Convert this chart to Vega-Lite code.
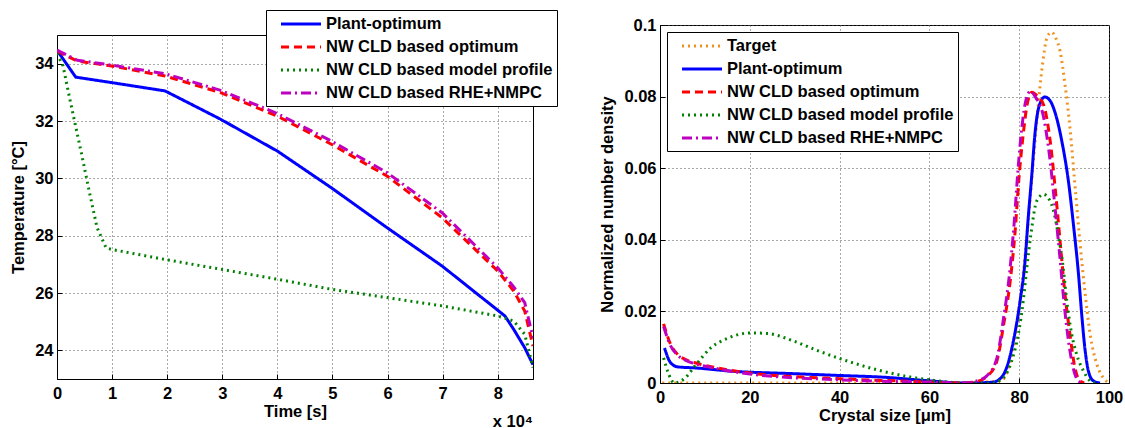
{
  "$schema": "https://vega.github.io/schema/vega-lite/v6.json",
  "padding": {"left": 10, "top": 9, "right": 5, "bottom": 2},
  "background": "white",
  "datasets": {
    "temp": [
      {"t": 0, "T": 34.47, "s": "Plant-optimum"},
      {"t": 3400, "T": 33.53, "s": "Plant-optimum"},
      {"t": 9900, "T": 33.34, "s": "Plant-optimum"},
      {"t": 19600, "T": 33.05, "s": "Plant-optimum"},
      {"t": 23800, "T": 32.64, "s": "Plant-optimum"},
      {"t": 29700, "T": 32.06, "s": "Plant-optimum"},
      {"t": 40000, "T": 30.95, "s": "Plant-optimum"},
      {"t": 49800, "T": 29.67, "s": "Plant-optimum"},
      {"t": 59900, "T": 28.28, "s": "Plant-optimum"},
      {"t": 69900, "T": 26.94, "s": "Plant-optimum"},
      {"t": 81300, "T": 25.2, "s": "Plant-optimum"},
      {"t": 82900, "T": 24.73, "s": "Plant-optimum"},
      {"t": 84900, "T": 24.09, "s": "Plant-optimum"},
      {"t": 86400, "T": 23.5, "s": "Plant-optimum"},
      {"t": 0, "T": 34.44, "s": "NW CLD based optimum"},
      {"t": 3700, "T": 34.09, "s": "NW CLD based optimum"},
      {"t": 9900, "T": 33.92, "s": "NW CLD based optimum"},
      {"t": 19600, "T": 33.57, "s": "NW CLD based optimum"},
      {"t": 29700, "T": 32.99, "s": "NW CLD based optimum"},
      {"t": 40000, "T": 32.17, "s": "NW CLD based optimum"},
      {"t": 49800, "T": 31.19, "s": "NW CLD based optimum"},
      {"t": 59900, "T": 30.08, "s": "NW CLD based optimum"},
      {"t": 69900, "T": 28.63, "s": "NW CLD based optimum"},
      {"t": 80000, "T": 26.77, "s": "NW CLD based optimum"},
      {"t": 82900, "T": 26.07, "s": "NW CLD based optimum"},
      {"t": 84900, "T": 25.37, "s": "NW CLD based optimum"},
      {"t": 86400, "T": 24.15, "s": "NW CLD based optimum"},
      {"t": 0, "T": 34.35, "s": "NW CLD based model profile"},
      {"t": 1100, "T": 33.92, "s": "NW CLD based model profile"},
      {"t": 2400, "T": 32.7, "s": "NW CLD based model profile"},
      {"t": 4350, "T": 30.95, "s": "NW CLD based model profile"},
      {"t": 5970, "T": 29.44, "s": "NW CLD based model profile"},
      {"t": 7270, "T": 28.28, "s": "NW CLD based model profile"},
      {"t": 8900, "T": 27.58, "s": "NW CLD based model profile"},
      {"t": 9900, "T": 27.52, "s": "NW CLD based model profile"},
      {"t": 19600, "T": 27.17, "s": "NW CLD based model profile"},
      {"t": 29700, "T": 26.83, "s": "NW CLD based model profile"},
      {"t": 40000, "T": 26.48, "s": "NW CLD based model profile"},
      {"t": 49800, "T": 26.13, "s": "NW CLD based model profile"},
      {"t": 59900, "T": 25.84, "s": "NW CLD based model profile"},
      {"t": 69900, "T": 25.55, "s": "NW CLD based model profile"},
      {"t": 80000, "T": 25.2, "s": "NW CLD based model profile"},
      {"t": 82900, "T": 25.02, "s": "NW CLD based model profile"},
      {"t": 84900, "T": 24.56, "s": "NW CLD based model profile"},
      {"t": 86400, "T": 23.4, "s": "NW CLD based model profile"},
      {"t": 0, "T": 34.47, "s": "NW CLD based RHE+NMPC"},
      {"t": 3700, "T": 34.12, "s": "NW CLD based RHE+NMPC"},
      {"t": 9900, "T": 33.95, "s": "NW CLD based RHE+NMPC"},
      {"t": 19600, "T": 33.65, "s": "NW CLD based RHE+NMPC"},
      {"t": 29700, "T": 33.07, "s": "NW CLD based RHE+NMPC"},
      {"t": 40000, "T": 32.26, "s": "NW CLD based RHE+NMPC"},
      {"t": 49800, "T": 31.3, "s": "NW CLD based RHE+NMPC"},
      {"t": 59900, "T": 30.2, "s": "NW CLD based RHE+NMPC"},
      {"t": 69900, "T": 28.8, "s": "NW CLD based RHE+NMPC"},
      {"t": 80000, "T": 26.88, "s": "NW CLD based RHE+NMPC"},
      {"t": 82900, "T": 26.21, "s": "NW CLD based RHE+NMPC"},
      {"t": 84900, "T": 25.66, "s": "NW CLD based RHE+NMPC"},
      {"t": 86400, "T": 24.44, "s": "NW CLD based RHE+NMPC"}
    ],
    "csd": [
      {"L": 0.5, "n": 0, "s": "Target"},
      {"L": 20, "n": 0, "s": "Target"},
      {"L": 40, "n": 0, "s": "Target"},
      {"L": 60, "n": 0, "s": "Target"},
      {"L": 76, "n": 0.0005, "s": "Target"},
      {"L": 77.5, "n": 0.004, "s": "Target"},
      {"L": 79, "n": 0.012, "s": "Target"},
      {"L": 80.5, "n": 0.026, "s": "Target"},
      {"L": 82, "n": 0.045, "s": "Target"},
      {"L": 83.5, "n": 0.067, "s": "Target"},
      {"L": 85, "n": 0.087, "s": "Target"},
      {"L": 86.2, "n": 0.0965, "s": "Target"},
      {"L": 87.2, "n": 0.098, "s": "Target"},
      {"L": 88.2, "n": 0.0962, "s": "Target"},
      {"L": 89.1, "n": 0.0927, "s": "Target"},
      {"L": 90.2, "n": 0.0834, "s": "Target"},
      {"L": 91.3, "n": 0.0713, "s": "Target"},
      {"L": 92.4, "n": 0.0555, "s": "Target"},
      {"L": 93.5, "n": 0.0397, "s": "Target"},
      {"L": 94.7, "n": 0.0248, "s": "Target"},
      {"L": 95.8, "n": 0.0136, "s": "Target"},
      {"L": 97.3, "n": 0.0052, "s": "Target"},
      {"L": 98.7, "n": 0.0015, "s": "Target"},
      {"L": 100, "n": 0, "s": "Target"},
      {"L": 1, "n": 0.0098, "s": "Plant-optimum"},
      {"L": 2.4, "n": 0.0056, "s": "Plant-optimum"},
      {"L": 4, "n": 0.0045, "s": "Plant-optimum"},
      {"L": 8, "n": 0.0042, "s": "Plant-optimum"},
      {"L": 16, "n": 0.0033, "s": "Plant-optimum"},
      {"L": 30, "n": 0.0026, "s": "Plant-optimum"},
      {"L": 40, "n": 0.0021, "s": "Plant-optimum"},
      {"L": 50, "n": 0.0016, "s": "Plant-optimum"},
      {"L": 60, "n": 0.0006, "s": "Plant-optimum"},
      {"L": 67.6, "n": 0, "s": "Plant-optimum"},
      {"L": 74, "n": 0.0002, "s": "Plant-optimum"},
      {"L": 76, "n": 0.0015, "s": "Plant-optimum"},
      {"L": 77.2, "n": 0.0043, "s": "Plant-optimum"},
      {"L": 78.7, "n": 0.0117, "s": "Plant-optimum"},
      {"L": 80.2, "n": 0.0229, "s": "Plant-optimum"},
      {"L": 81.3, "n": 0.034, "s": "Plant-optimum"},
      {"L": 82, "n": 0.046, "s": "Plant-optimum"},
      {"L": 82.8, "n": 0.058, "s": "Plant-optimum"},
      {"L": 83.5, "n": 0.0695, "s": "Plant-optimum"},
      {"L": 84.4, "n": 0.0772, "s": "Plant-optimum"},
      {"L": 85.7, "n": 0.0799, "s": "Plant-optimum"},
      {"L": 86.8, "n": 0.079, "s": "Plant-optimum"},
      {"L": 88, "n": 0.0755, "s": "Plant-optimum"},
      {"L": 89.5, "n": 0.0675, "s": "Plant-optimum"},
      {"L": 91, "n": 0.056, "s": "Plant-optimum"},
      {"L": 92.1, "n": 0.044, "s": "Plant-optimum"},
      {"L": 93.2, "n": 0.0305, "s": "Plant-optimum"},
      {"L": 93.9, "n": 0.0195, "s": "Plant-optimum"},
      {"L": 94.7, "n": 0.0089, "s": "Plant-optimum"},
      {"L": 95.4, "n": 0.0034, "s": "Plant-optimum"},
      {"L": 96.5, "n": 0.0006, "s": "Plant-optimum"},
      {"L": 98, "n": 0, "s": "Plant-optimum"},
      {"L": 0.8, "n": 0.0165, "s": "NW CLD based optimum"},
      {"L": 2.4, "n": 0.0107, "s": "NW CLD based optimum"},
      {"L": 4, "n": 0.0079, "s": "NW CLD based optimum"},
      {"L": 6, "n": 0.0064, "s": "NW CLD based optimum"},
      {"L": 8, "n": 0.0056, "s": "NW CLD based optimum"},
      {"L": 12, "n": 0.0044, "s": "NW CLD based optimum"},
      {"L": 20, "n": 0.0028, "s": "NW CLD based optimum"},
      {"L": 40, "n": 0.0012, "s": "NW CLD based optimum"},
      {"L": 60, "n": 0.0003, "s": "NW CLD based optimum"},
      {"L": 67.6, "n": 0, "s": "NW CLD based optimum"},
      {"L": 70.8, "n": 0.0005, "s": "NW CLD based optimum"},
      {"L": 72.8, "n": 0.0018, "s": "NW CLD based optimum"},
      {"L": 75, "n": 0.006, "s": "NW CLD based optimum"},
      {"L": 76.5, "n": 0.016, "s": "NW CLD based optimum"},
      {"L": 78, "n": 0.0285, "s": "NW CLD based optimum"},
      {"L": 79.1, "n": 0.0425, "s": "NW CLD based optimum"},
      {"L": 79.9, "n": 0.0565, "s": "NW CLD based optimum"},
      {"L": 80.9, "n": 0.0695, "s": "NW CLD based optimum"},
      {"L": 81.8, "n": 0.078, "s": "NW CLD based optimum"},
      {"L": 82.8, "n": 0.0812, "s": "NW CLD based optimum"},
      {"L": 84, "n": 0.0802, "s": "NW CLD based optimum"},
      {"L": 85.4, "n": 0.0778, "s": "NW CLD based optimum"},
      {"L": 86.9, "n": 0.0676, "s": "NW CLD based optimum"},
      {"L": 88, "n": 0.0546, "s": "NW CLD based optimum"},
      {"L": 89.1, "n": 0.0397, "s": "NW CLD based optimum"},
      {"L": 90.2, "n": 0.0248, "s": "NW CLD based optimum"},
      {"L": 91.3, "n": 0.0136, "s": "NW CLD based optimum"},
      {"L": 92.4, "n": 0.0043, "s": "NW CLD based optimum"},
      {"L": 93.5, "n": 0.0006, "s": "NW CLD based optimum"},
      {"L": 94.5, "n": 0, "s": "NW CLD based optimum"},
      {"L": 0.8, "n": 0.007, "s": "NW CLD based model profile"},
      {"L": 2, "n": 0.0023, "s": "NW CLD based model profile"},
      {"L": 3.2, "n": 0, "s": "NW CLD based model profile"},
      {"L": 5.6, "n": 0.0014, "s": "NW CLD based model profile"},
      {"L": 8, "n": 0.0051, "s": "NW CLD based model profile"},
      {"L": 11.3, "n": 0.0098, "s": "NW CLD based model profile"},
      {"L": 15.3, "n": 0.0126, "s": "NW CLD based model profile"},
      {"L": 20.1, "n": 0.014, "s": "NW CLD based model profile"},
      {"L": 24.1, "n": 0.0138, "s": "NW CLD based model profile"},
      {"L": 29.8, "n": 0.0117, "s": "NW CLD based model profile"},
      {"L": 35.4, "n": 0.0089, "s": "NW CLD based model profile"},
      {"L": 41.8, "n": 0.0061, "s": "NW CLD based model profile"},
      {"L": 48.3, "n": 0.0037, "s": "NW CLD based model profile"},
      {"L": 54.7, "n": 0.0019, "s": "NW CLD based model profile"},
      {"L": 61.1, "n": 0.0007, "s": "NW CLD based model profile"},
      {"L": 67.6, "n": 0, "s": "NW CLD based model profile"},
      {"L": 74, "n": 0, "s": "NW CLD based model profile"},
      {"L": 76.5, "n": 0.0015, "s": "NW CLD based model profile"},
      {"L": 78.3, "n": 0.0061, "s": "NW CLD based model profile"},
      {"L": 79.8, "n": 0.0136, "s": "NW CLD based model profile"},
      {"L": 80.9, "n": 0.0229, "s": "NW CLD based model profile"},
      {"L": 81.7, "n": 0.0322, "s": "NW CLD based model profile"},
      {"L": 82.6, "n": 0.0415, "s": "NW CLD based model profile"},
      {"L": 83.9, "n": 0.0508, "s": "NW CLD based model profile"},
      {"L": 85.4, "n": 0.0527, "s": "NW CLD based model profile"},
      {"L": 87.2, "n": 0.0499, "s": "NW CLD based model profile"},
      {"L": 88.7, "n": 0.0415, "s": "NW CLD based model profile"},
      {"L": 89.8, "n": 0.0322, "s": "NW CLD based model profile"},
      {"L": 90.6, "n": 0.0229, "s": "NW CLD based model profile"},
      {"L": 91.7, "n": 0.0136, "s": "NW CLD based model profile"},
      {"L": 92.8, "n": 0.008, "s": "NW CLD based model profile"},
      {"L": 94.3, "n": 0.0034, "s": "NW CLD based model profile"},
      {"L": 95.8, "n": 0.0006, "s": "NW CLD based model profile"},
      {"L": 97, "n": 0, "s": "NW CLD based model profile"},
      {"L": 0.8, "n": 0.0158, "s": "NW CLD based RHE+NMPC"},
      {"L": 2.4, "n": 0.0103, "s": "NW CLD based RHE+NMPC"},
      {"L": 4, "n": 0.0077, "s": "NW CLD based RHE+NMPC"},
      {"L": 6, "n": 0.0062, "s": "NW CLD based RHE+NMPC"},
      {"L": 8, "n": 0.0053, "s": "NW CLD based RHE+NMPC"},
      {"L": 12, "n": 0.0042, "s": "NW CLD based RHE+NMPC"},
      {"L": 20, "n": 0.0025, "s": "NW CLD based RHE+NMPC"},
      {"L": 40, "n": 0.0009, "s": "NW CLD based RHE+NMPC"},
      {"L": 60, "n": 0.0002, "s": "NW CLD based RHE+NMPC"},
      {"L": 67.6, "n": 0, "s": "NW CLD based RHE+NMPC"},
      {"L": 70.8, "n": 0.0007, "s": "NW CLD based RHE+NMPC"},
      {"L": 72.8, "n": 0.002, "s": "NW CLD based RHE+NMPC"},
      {"L": 75, "n": 0.0068, "s": "NW CLD based RHE+NMPC"},
      {"L": 76.5, "n": 0.018, "s": "NW CLD based RHE+NMPC"},
      {"L": 77.8, "n": 0.03, "s": "NW CLD based RHE+NMPC"},
      {"L": 78.9, "n": 0.045, "s": "NW CLD based RHE+NMPC"},
      {"L": 79.7, "n": 0.059, "s": "NW CLD based RHE+NMPC"},
      {"L": 80.6, "n": 0.0715, "s": "NW CLD based RHE+NMPC"},
      {"L": 81.5, "n": 0.079, "s": "NW CLD based RHE+NMPC"},
      {"L": 82.5, "n": 0.0815, "s": "NW CLD based RHE+NMPC"},
      {"L": 83.7, "n": 0.0797, "s": "NW CLD based RHE+NMPC"},
      {"L": 85.3, "n": 0.075, "s": "NW CLD based RHE+NMPC"},
      {"L": 86.7, "n": 0.064, "s": "NW CLD based RHE+NMPC"},
      {"L": 87.9, "n": 0.05, "s": "NW CLD based RHE+NMPC"},
      {"L": 89, "n": 0.036, "s": "NW CLD based RHE+NMPC"},
      {"L": 90.1, "n": 0.021, "s": "NW CLD based RHE+NMPC"},
      {"L": 91.3, "n": 0.009, "s": "NW CLD based RHE+NMPC"},
      {"L": 92.4, "n": 0.0025, "s": "NW CLD based RHE+NMPC"},
      {"L": 93.5, "n": 0.0003, "s": "NW CLD based RHE+NMPC"},
      {"L": 94.1, "n": 0, "s": "NW CLD based RHE+NMPC"}
    ]
  },
  "hconcat": [
    {
      "vconcat": [
        {
          "width": 1,
          "height": 1,
          "data": {"values": []},
          "mark": {"type": "point", "opacity": 0},
          "view": {"stroke": null}
        },
        {
          "width": 476,
          "height": 344,
          "data": {"name": "temp"},
          "title": {"text": "x 10⁴", "orient": "bottom", "anchor": "end", "frame": "group", "offset": -6},
          "mark": {"type": "line", "strokeWidth": 3, "clip": true},
          "encoding": {
            "x": {"field": "t", "type": "quantitative", "scale": {"domain": [0, 86400], "nice": false, "zero": false},
                  "axis": {"title": "Time [s]", "values": [0, 10000, 20000, 30000, 40000, 50000, 60000, 70000, 80000], "labelExpr": "datum.value / 10000"}},
            "y": {"field": "T", "type": "quantitative", "scale": {"domain": [23, 35], "nice": false, "zero": false},
                  "axis": {"title": "Temperature [°C]", "values": [24, 26, 28, 30, 32, 34]}},
            "color": {"field": "s", "type": "nominal",
                      "scale": {"domain": ["Plant-optimum", "NW CLD based optimum", "NW CLD based model profile", "NW CLD based RHE+NMPC"],
                                "range": ["#0000FF", "#FF0000", "#008000", "#C000C0"]},
                      "legend": {"title": null, "orient": "none", "legendX": 209, "legendY": -15, "symbolType": "M-2.353,0L2.353,0", "symbolSize": 289, "symbolStrokeWidth": 3, "symbolOffset": 21, "labelOffset": 15, "padding": 4, "rowPadding": 4, "fillColor": "white", "strokeColor": "black", "labelFont": "Liberation Sans", "labelFontSize": 16.5, "labelFontWeight": "bold", "labelColor": "black", "labelLimit": 400}},
            "strokeDash": {"field": "s", "type": "nominal",
                      "scale": {"domain": ["Plant-optimum", "NW CLD based optimum", "NW CLD based model profile", "NW CLD based RHE+NMPC"],
                                "range": [[1, 0], [8, 5], [2, 4], [10, 4, 2, 4]]},
                      "legend": {"title": null, "orient": "none", "legendX": 209, "legendY": -15, "symbolType": "M-2.353,0L2.353,0", "symbolSize": 289, "symbolStrokeWidth": 3, "symbolOffset": 21, "labelOffset": 15, "padding": 4, "rowPadding": 4, "fillColor": "white", "strokeColor": "black", "labelFont": "Liberation Sans", "labelFontSize": 16.5, "labelFontWeight": "bold", "labelColor": "black", "labelLimit": 400}}
          }
        }
      ],
      "spacing": 9,
      "bounds": "flush"
    },
    {
      "width": 449,
      "height": 358,
      "data": {"name": "csd"},
      "mark": {"type": "line", "strokeWidth": 3, "clip": true, "interpolate": "monotone"},
      "encoding": {
        "x": {"field": "L", "type": "quantitative", "scale": {"domain": [0, 100], "nice": false},
              "axis": {"title": "Crystal size [μm]", "values": [0, 20, 40, 60, 80, 100]}},
        "y": {"field": "n", "type": "quantitative", "scale": {"domain": [0, 0.1], "nice": false},
              "axis": {"title": "Normalized number density", "values": [0, 0.02, 0.04, 0.06, 0.08, 0.1], "format": "~g"}},
        "color": {"field": "s", "type": "nominal",
                  "scale": {"domain": ["Target", "Plant-optimum", "NW CLD based optimum", "NW CLD based model profile", "NW CLD based RHE+NMPC"],
                            "range": ["#F0901E", "#0000FF", "#FF0000", "#008000", "#C000C0"]},
                  "legend": {"title": null, "orient": "none", "legendX": 7, "legendY": 7, "symbolType": "M-2.353,0L2.353,0", "symbolSize": 289, "symbolStrokeWidth": 3, "symbolOffset": 21, "labelOffset": 15, "padding": 4, "rowPadding": 4, "fillColor": "white", "strokeColor": "black", "labelFont": "Liberation Sans", "labelFontSize": 16.5, "labelFontWeight": "bold", "labelColor": "black", "labelLimit": 400}},
        "strokeDash": {"field": "s", "type": "nominal",
                  "scale": {"domain": ["Target", "Plant-optimum", "NW CLD based optimum", "NW CLD based model profile", "NW CLD based RHE+NMPC"],
                            "range": [[2, 4], [1, 0], [8, 5], [2, 4], [10, 4, 2, 4]]},
                  "legend": {"title": null, "orient": "none", "legendX": 7, "legendY": 7, "symbolType": "M-2.353,0L2.353,0", "symbolSize": 289, "symbolStrokeWidth": 3, "symbolOffset": 21, "labelOffset": 15, "padding": 4, "rowPadding": 4, "fillColor": "white", "strokeColor": "black", "labelFont": "Liberation Sans", "labelFontSize": 16.5, "labelFontWeight": "bold", "labelColor": "black", "labelLimit": 400}}
      }
    }
  ],
  "spacing": 41,
  "resolve": {
    "scale": {"color": "independent", "strokeDash": "independent"},
    "legend": {"color": "independent", "strokeDash": "independent"}
  },
  "config": {
    "font": "Liberation Sans",
    "view": {"stroke": "black", "strokeWidth": 1},
    "axis": {
      "labelFont": "Liberation Sans", "labelFontSize": 16.5, "labelFontWeight": "bold", "labelColor": "black",
      "titleFont": "Liberation Sans", "titleFontSize": 16.5, "titleFontWeight": "bold", "titleColor": "black",
      "domainColor": "black", "domainWidth": 1, "ticks": true, "tickSize": -5, "tickColor": "black", "tickWidth": 1,
      "gridColor": "#555555", "gridDash": [1, 3], "gridWidth": 1,
      "labelFlush": false, "labelOverlap": false
    },
    "axisX": {"labelPadding": 11, "titlePadding": 2},
    "axisY": {"labelPadding": 9, "titlePadding": 8},
    "title": {"font": "Liberation Sans", "fontSize": 16.5, "fontWeight": "bold", "color": "black"}
  }
}
